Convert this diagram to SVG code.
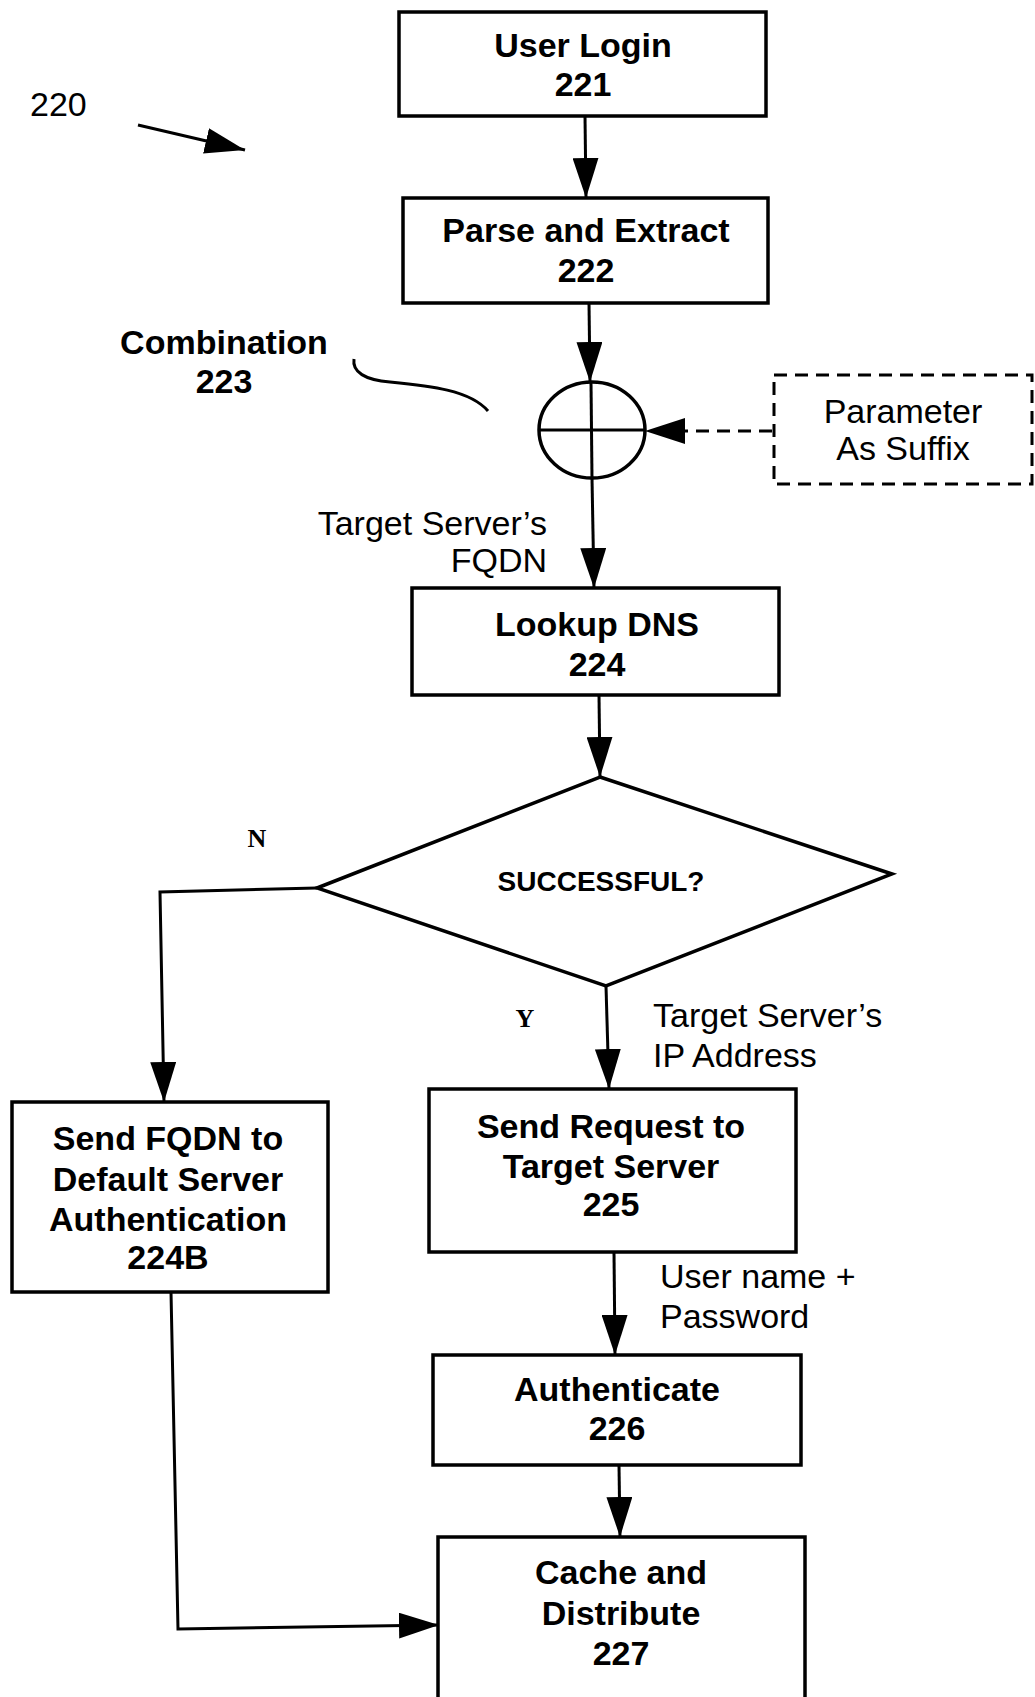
<svg xmlns="http://www.w3.org/2000/svg" width="1035" height="1697" viewBox="0 0 1035 1697">
<style>
.box{fill:#fff;stroke:#000;stroke-width:3.5}
.b{font-family:"Liberation Sans",Arial,sans-serif;font-weight:bold;font-size:34px;fill:#000;text-anchor:middle}
.r{font-family:"Liberation Sans",Arial,sans-serif;font-size:34px;fill:#000}
.s{font-family:"Liberation Serif","Times New Roman",serif;font-weight:bold;font-size:26px;fill:#000;text-anchor:middle}
.ln{fill:none;stroke:#000;stroke-width:3}
</style>
<defs>
<marker id="ah" markerUnits="userSpaceOnUse" markerWidth="40" markerHeight="26" refX="40" refY="13" orient="auto">
<path d="M0,0 L40,13 L0,26 z" fill="#000"/>
</marker>
</defs>
<rect width="1035" height="1697" fill="#fff"/>
<g id="label-220">
<text class="r" x="30" y="116">220</text>
<line class="ln" x1="138" y1="125" x2="245" y2="150" stroke-width="4" marker-end="url(#ah)"/>
</g>
<g id="connectors">
<line class="ln" x1="585" y1="116" x2="586" y2="198" marker-end="url(#ah)"/>
<line class="ln" x1="589" y1="303" x2="590" y2="382" marker-end="url(#ah)"/>
<line class="ln" x1="772" y1="431" x2="645" y2="431" stroke-dasharray="13,8" marker-end="url(#ah)"/>
<line class="ln" x1="592" y1="478" x2="594" y2="588" marker-end="url(#ah)"/>
<line class="ln" x1="599" y1="695" x2="600" y2="777" marker-end="url(#ah)"/>
<polyline class="ln" points="317,888 160,892 164,1102" marker-end="url(#ah)"/>
<line class="ln" x1="606" y1="986" x2="609" y2="1089" marker-end="url(#ah)"/>
<line class="ln" x1="614" y1="1252" x2="615" y2="1355" marker-end="url(#ah)"/>
<line class="ln" x1="619" y1="1465" x2="620" y2="1537" marker-end="url(#ah)"/>
<polyline class="ln" points="171,1292 178,1629 439,1625" marker-end="url(#ah)"/>
<path class="ln" d="M354,359 C352,372 365,380 390,382 C430,386 470,390 488,411" stroke-width="2.5"/>
</g>
<g id="node-221">
<rect class="box" x="399" y="12" width="367" height="104"/>
<text class="b" x="583" y="57">User Login</text>
<text class="b" x="583" y="96">221</text>
</g>
<g id="node-222">
<rect class="box" x="403" y="198" width="365" height="105"/>
<text class="b" x="586" y="242">Parse and Extract</text>
<text class="b" x="586" y="282">222</text>
</g>
<g id="node-223">
<ellipse cx="592" cy="430" rx="53" ry="48" fill="#fff" stroke="#000" stroke-width="3.5"/>
<line class="ln" x1="539" y1="430" x2="645" y2="430"/>
<line class="ln" x1="591" y1="382" x2="592" y2="478"/>
<text class="b" x="224" y="354">Combination</text>
<text class="b" x="224" y="393">223</text>
</g>
<g id="node-param">
<rect x="774" y="375" width="258" height="109" fill="none" stroke="#000" stroke-width="3" stroke-dasharray="13,8"/>
<text class="r" x="903" y="423" text-anchor="middle">Parameter</text>
<text class="r" x="903" y="460" text-anchor="middle">As Suffix</text>
</g>
<g id="label-fqdn">
<text class="r" x="547" y="535" text-anchor="end">Target Server’s</text>
<text class="r" x="547" y="572" text-anchor="end">FQDN</text>
</g>
<g id="node-224">
<rect class="box" x="412" y="588" width="367" height="107"/>
<text class="b" x="597" y="636">Lookup DNS</text>
<text class="b" x="597" y="676">224</text>
</g>
<g id="node-decision">
<polygon points="600,777 892,874 606,986 317,888" fill="#fff" stroke="#000" stroke-width="3.5"/>
<text class="b" x="601" y="891" style="font-size:28px">SUCCESSFUL?</text>
<text class="s" x="257" y="847">N</text>
<text class="s" x="525" y="1027">Y</text>
</g>
<g id="label-ip">
<text class="r" x="653" y="1027">Target Server’s</text>
<text class="r" x="653" y="1067">IP Address</text>
</g>
<g id="node-224B">
<rect class="box" x="12" y="1102" width="316" height="190"/>
<text class="b" x="168" y="1150">Send FQDN to</text>
<text class="b" x="168" y="1191">Default Server</text>
<text class="b" x="168" y="1231">Authentication</text>
<text class="b" x="168" y="1269">224B</text>
</g>
<g id="node-225">
<rect class="box" x="429" y="1089" width="367" height="163"/>
<text class="b" x="611" y="1138">Send Request to</text>
<text class="b" x="611" y="1178">Target Server</text>
<text class="b" x="611" y="1216">225</text>
</g>
<g id="label-user">
<text class="r" x="660" y="1288">User name +</text>
<text class="r" x="660" y="1328">Password</text>
</g>
<g id="node-226">
<rect class="box" x="433" y="1355" width="368" height="110"/>
<text class="b" x="617" y="1401">Authenticate</text>
<text class="b" x="617" y="1440">226</text>
</g>
<g id="node-227">
<rect class="box" x="438" y="1537" width="367" height="175"/>
<text class="b" x="621" y="1584">Cache and</text>
<text class="b" x="621" y="1625">Distribute</text>
<text class="b" x="621" y="1665">227</text>
</g>
</svg>
